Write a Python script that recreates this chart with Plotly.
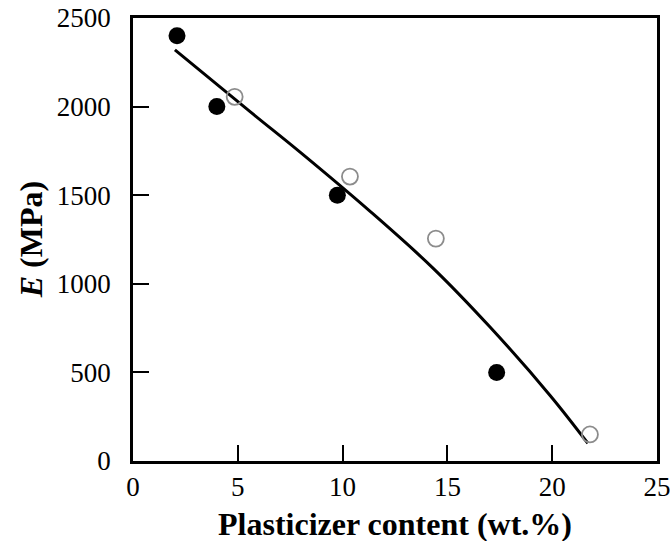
import plotly.graph_objects as go

# Measured moduli: two sample series
filled_x = [2.1, 4.0, 9.75, 17.35]
filled_y = [2400, 2000, 1500, 500]
open_x = [4.85, 10.35, 14.45, 21.8]
open_y = [2055, 1605, 1255, 150]

# Trend curve through the data
curve_x = [2.0, 5.6, 8.0, 11.3, 14.3, 17.0, 19.9, 21.7]
curve_y = [2320, 1970, 1740, 1410, 1090, 760, 370, 100]

x_ticks = [0, 5, 10, 15, 20, 25]
y_ticks = [0, 500, 1000, 1500, 2000, 2500]

serif = "Liberation Serif"

fig = go.Figure()
fig.add_trace(go.Scatter(
    x=curve_x, y=curve_y, mode="lines",
    line=dict(color="black", width=3, shape="spline", smoothing=1.0),
    hoverinfo="skip", showlegend=False,
))
fig.add_trace(go.Scatter(
    x=filled_x, y=filled_y, mode="markers",
    marker=dict(symbol="circle", size=17, color="black"),
    showlegend=False,
))
fig.add_trace(go.Scatter(
    x=open_x, y=open_y, mode="markers",
    marker=dict(symbol="circle-open", size=16, color="#8c8c8c",
                line=dict(width=1.8, color="#8c8c8c")),
    showlegend=False,
))

axis_common = dict(
    showgrid=False, zeroline=False, automargin=False,
    ticklabeloverflow="allow",
    showline=True, linecolor="black", linewidth=2.5, mirror=True,
    ticks="inside", ticklen=16, tickwidth=2, tickcolor="black",
    tickfont=dict(family=serif, size=27, color="black"),
)

fig.update_xaxes(range=[0, 25], tickvals=x_ticks, ticklabelstandoff=0, **axis_common)
fig.update_yaxes(range=[0, 2500], tickvals=y_ticks, ticklabelstandoff=14, **axis_common)

fig.add_annotation(
    text="<b>Plasticizer content (wt.%)</b>",
    xref="paper", yref="paper", x=0.5, y=-0.143, yanchor="middle",
    showarrow=False, font=dict(family=serif, size=32, color="black"),
)
fig.add_annotation(
    text="<b><i>E</i> (MPa)</b>",
    xref="paper", yref="paper", x=-0.195, y=0.5, xanchor="center",
    textangle=-90, showarrow=False,
    font=dict(family=serif, size=32, color="black"),
)

fig.update_layout(
    width=670, height=541,
    margin=dict(l=133, r=13, t=18, b=80),
    plot_bgcolor="white", paper_bgcolor="white",
)

fig.write_html("out.html")
